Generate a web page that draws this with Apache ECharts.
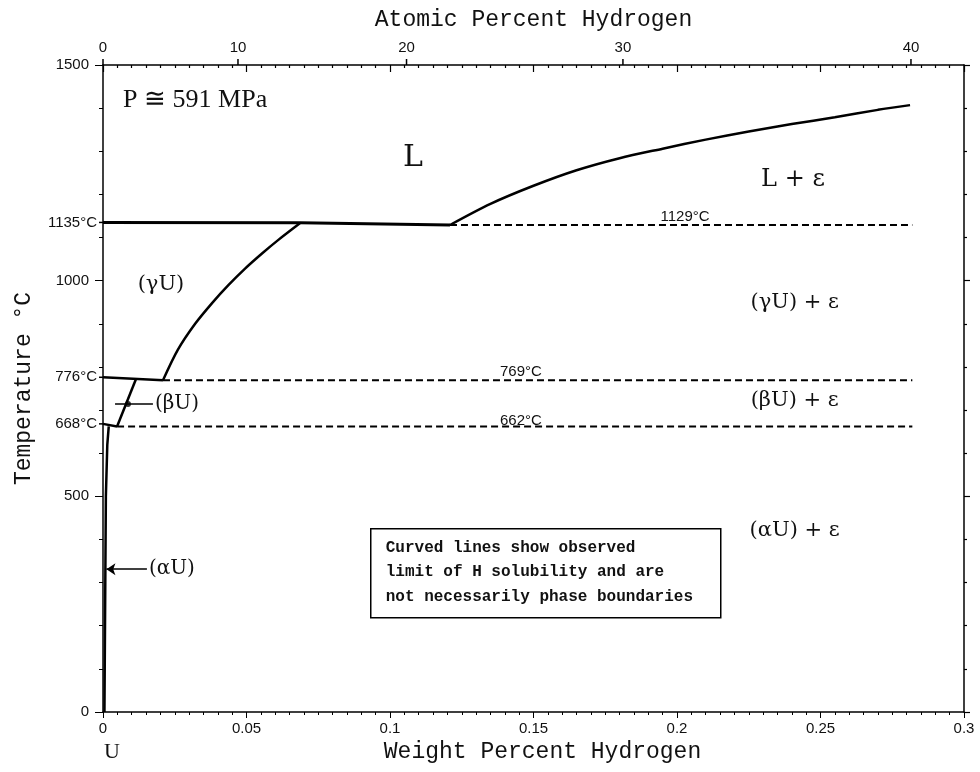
<!DOCTYPE html>
<html>
<head>
<meta charset="utf-8">
<title>U-H phase diagram</title>
<script src="https://cdn.jsdelivr.net/npm/echarts@6/dist/echarts.min.js"></script>
<style>
html, body { margin: 0; padding: 0; background: #fff; }
#chart { width: 980px; height: 772px; }
</style>
</head>
<body>
<div id="chart"></div>
<script>
'use strict';

// [weight percent H, temperature °C]
const liquidus = [[0.1209, 1129], [0.135, 1178], [0.150, 1220], [0.165, 1256], [0.180, 1284],
  [0.195, 1306], [0.210, 1327], [0.225, 1346], [0.240, 1363], [0.255, 1379], [0.270, 1396], [0.2812, 1407]];
const gammaSolvus = [[0.0209, 769], [0.0261, 840], [0.0321, 900], [0.0380, 948], [0.0436, 989],
  [0.0495, 1028], [0.0554, 1063], [0.0610, 1094], [0.0686, 1133]];
const betaSolvus = [[0.0049, 662], [0.0115, 772]];
const alphaSolvus = [[0.0005, 0], [0.0008, 300], [0.001, 500], [0.0015, 620], [0.002, 662]];
const line1135 = [[0, 1135], [0.0686, 1134], [0.1209, 1129]];
const line776 = [[0, 776], [0.0209, 769]];
const line668 = [[0, 668], [0.0049, 662]];

const dashed1129 = [[0.1209, 1129], [0.282, 1129]];
const dashed769 = [[0.0209, 769], [0.282, 769]];
const dashed662 = [[0.0049, 662], [0.282, 662]];

// atomic percent ticks on top
const atTicks = [0, 10, 20, 30, 40];

// pointers for the small phase fields
const betaPointer = [[0.0042, 714], [0.0174, 714]];
const betaDot = [[0.0087, 714]];
const alphaPointer = [[0.0153, 331], [0.0012, 331]];

// [text, wt%, °C]
const phaseLabels = [
  ['(γU)', 0.0202, 992],
  ['(γU) + ε', 0.241, 950],
  ['(βU) + ε', 0.241, 721],
  ['(αU) + ε', 0.241, 420]
];
const bigLabels = [['L + ε', 0.2404, 1233]];
const liquidLabel = [['L', 0.108, 1284]];
const pointerLabels = [['(βU)', 0.0181, 714], ['(αU)', 0.016, 331]];
const lineTemps = [['1129°C', 0.2028, 1131], ['769°C', 0.1456, 771], ['662°C', 0.1456, 657]];
const axisTemps = [['1135°C', 1135], ['776°C', 776], ['668°C', 668]];
const noteLines = ['Curved lines show observed', 'limit of H solubility and are', 'not necessarily phase boundaries'];

function atToWt(a) {
  return 100 * a * 1.008 / (a * 1.008 + (100 - a) * 238.03);
}

function solid(data, smooth, width) {
  return { type: 'line', data: data, showSymbol: false, clip: false, smooth: smooth ? 0.3 : false,
    lineStyle: { color: '#000', width: width || 2.5 }, silent: true, z: 3 };
}
function dashed(data) {
  return { type: 'line', data: data, showSymbol: false, clip: false,
    lineStyle: { color: '#000', width: 2, type: [7, 4] }, silent: true, z: 3 };
}
function textSeries(rows, font, align, dx, baseline) {
  return {
    type: 'custom', coordinateSystem: 'cartesian2d', silent: true, z: 5,
    data: rows.map(r => [r[1], r[2]]),
    renderItem: function (params, api) {
      const p = api.coord([api.value(0), api.value(1)]);
      return {
        type: 'text', x: p[0] + (dx || 0), y: p[1],
        style: { text: rows[params.dataIndex][0], font: font, fill: '#111',
          align: align || 'center', verticalAlign: baseline || 'middle' }
      };
    }
  };
}

const axisFont = { fontFamily: 'Liberation Sans', fontSize: 15, color: '#111' };
const nameFont = { fontFamily: 'Liberation Mono', fontSize: 23, color: '#111' };
const axisLine = { show: true, onZero: false, lineStyle: { color: '#000', width: 1.5 } };
const plain = v => String(v);

const chart = echarts.init(document.getElementById('chart'));
chart.setOption({
  backgroundColor: '#fff',
  animation: false,
  grid: { left: 103, right: 16, top: 65, bottom: 60, outerBoundsMode: 'none' },
  xAxis: [{
    type: 'value', position: 'bottom', min: 0, max: 0.3, interval: 0.05,
    axisLine: axisLine, splitLine: { show: false },
    axisTick: { show: true, length: 6, lineStyle: { color: '#000' } },
    minorTick: { show: true, splitNumber: 10, length: 3, lineStyle: { color: '#000' } },
    axisLabel: Object.assign({ margin: 9, formatter: plain }, axisFont),
    name: 'Weight Percent Hydrogen', nameLocation: 'middle', nameGap: 28,
    nameTextStyle: Object.assign({ padding: [0, 0, 0, 18] }, nameFont)
  }, {
    type: 'value', position: 'top', min: 0, max: 0.3, interval: 0.05,
    axisLine: axisLine, splitLine: { show: false },
    axisTick: { show: true, inside: true, length: 7, lineStyle: { color: '#000', width: 1.2 } },
    minorTick: { show: true, splitNumber: 10, length: 3, lineStyle: { color: '#000', width: 1.2 } },
    axisLabel: { show: false },
    name: 'Atomic Percent Hydrogen', nameLocation: 'middle', nameGap: 34,
    nameTextStyle: nameFont
  }],
  yAxis: [{
    type: 'value', position: 'left', min: 0, max: 1500, interval: 500,
    axisLine: axisLine, splitLine: { show: false },
    axisTick: { show: true, length: 8, lineStyle: { color: '#000' } },
    minorTick: { show: true, splitNumber: 5, length: 4, lineStyle: { color: '#000' } },
    axisLabel: Object.assign({ margin: 14, formatter: plain }, axisFont),
    name: 'Temperature °C', nameLocation: 'middle', nameGap: 68, nameRotate: 90,
    nameTextStyle: nameFont
  }, {
    type: 'value', position: 'right', min: 0, max: 1500, interval: 500,
    axisLine: axisLine, splitLine: { show: false },
    axisTick: { show: true, length: 6, lineStyle: { color: '#000', width: 1.2 } },
    minorTick: { show: true, splitNumber: 5, length: 3, lineStyle: { color: '#000', width: 1.2 } },
    axisLabel: { show: false }
  }],
  graphic: [{
    type: 'group', left: 370, top: 528,
    children: [{
      type: 'rect', shape: { x: 0, y: 0, width: 350, height: 89 },
      style: { fill: '#fff', stroke: '#000', lineWidth: 1.5 }
    }].concat(noteLines.map((t, i) => ({
      type: 'text', x: 15, y: 19 + i * 24.5,
      style: { text: t, font: 'bold 16px "Liberation Mono"', fill: '#111', verticalAlign: 'middle' }
    })))
  }],
  series: [
    solid(liquidus, true),
    solid(gammaSolvus, true),
    solid(betaSolvus),
    solid(alphaSolvus),
    solid(line1135, false, 3),
    solid(line776),
    solid(line668),
    dashed(dashed1129),
    dashed(dashed769),
    dashed(dashed662),
    {
      type: 'lines', coordinateSystem: 'cartesian2d', silent: true, z: 4,
      symbol: ['none', 'none'],
      lineStyle: { color: '#000', width: 1.5, opacity: 1 },
      data: [{ coords: betaPointer }]
    },
    {
      type: 'lines', coordinateSystem: 'cartesian2d', silent: true, z: 4,
      symbol: ['none', 'arrow'], symbolSize: 9,
      lineStyle: { color: '#000', width: 1.5, opacity: 1 },
      data: [{ coords: alphaPointer }]
    },
    {
      type: 'scatter', data: betaDot, symbolSize: 6, silent: true, z: 4,
      itemStyle: { color: '#000' }
    },
    {
      // atomic percent scale, drawn against the weight percent axis
      type: 'custom', coordinateSystem: 'cartesian2d', silent: true, z: 5,
      data: atTicks.map(a => [atToWt(a), 1500]),
      renderItem: function (params, api) {
        const p = api.coord([api.value(0), api.value(1)]);
        return {
          type: 'group',
          children: [{
            type: 'line', shape: { x1: p[0], y1: p[1], x2: p[0], y2: p[1] - 6 },
            style: { stroke: '#000', lineWidth: 1.5 }
          }, {
            type: 'text', x: p[0], y: p[1] - 10,
            style: { text: String(atTicks[params.dataIndex]), font: '15px "Liberation Sans"',
              fill: '#111', align: 'center', verticalAlign: 'bottom' }
          }]
        };
      }
    },
    {
      type: 'custom', coordinateSystem: 'cartesian2d', silent: true, z: 5,
      data: axisTemps.map(r => [0, r[1]]),
      renderItem: function (params, api) {
        const p = api.coord([api.value(0), api.value(1)]);
        return {
          type: 'group',
          children: [{
            type: 'line', shape: { x1: p[0] - 4, y1: p[1], x2: p[0], y2: p[1] },
            style: { stroke: '#000', lineWidth: 1.5 }
          }, {
            type: 'text', x: p[0] - 6, y: p[1],
            style: { text: axisTemps[params.dataIndex][0], font: '15px "Liberation Sans"',
              fill: '#111', align: 'right', verticalAlign: 'middle' }
          }]
        };
      }
    },
    textSeries(phaseLabels, '21px "DejaVu Serif"'),
    textSeries(bigLabels, '24px "DejaVu Serif"'),
    textSeries(liquidLabel, '30px "DejaVu Serif"'),
    textSeries(pointerLabels, '20px "DejaVu Serif"', 'left'),
    textSeries(lineTemps, '15px "Liberation Sans"', 'center', 0, 'bottom'),
    textSeries([['P ≅ 591 MPa', 0.007, 1419]], '26px "Liberation Serif"', 'left'),
    textSeries([['U', 0.0031, -93]], '22px "Liberation Serif"')
  ]
});
</script>
</body>
</html>
